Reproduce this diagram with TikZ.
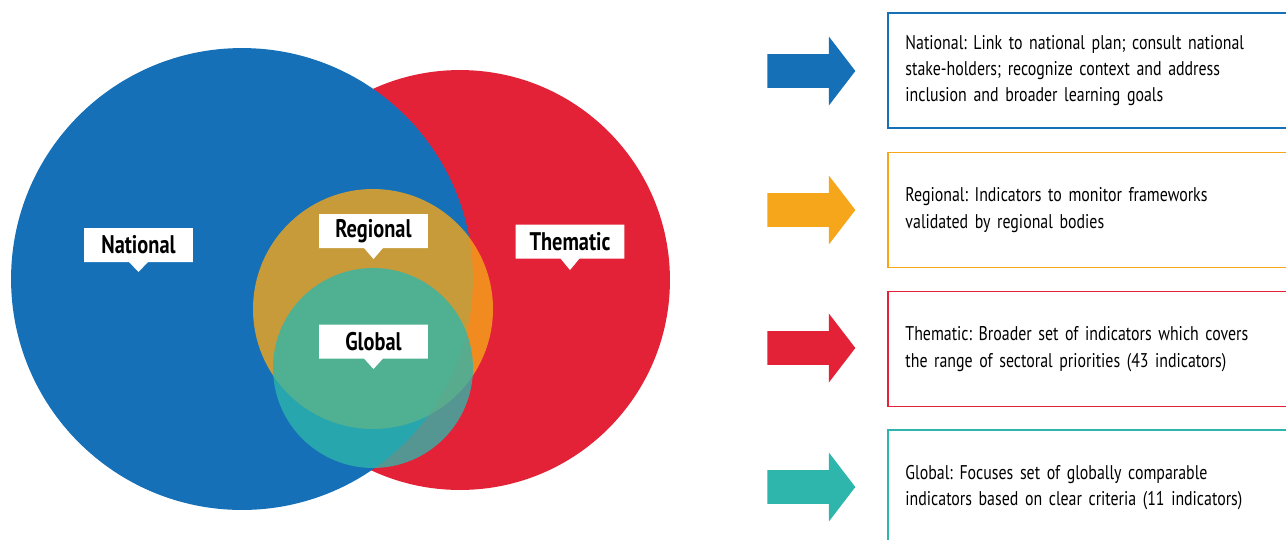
\documentclass[tikz,border=0pt]{standalone}
\usepackage{fontspec}
\setmainfont[FakeStretch=0.8]{PT Sans}
\usetikzlibrary{shapes.arrows,shapes.callouts}
\definecolor{natblue}{RGB}{21,112,184}
\definecolor{thmred}{RGB}{228,34,55}
\definecolor{regorange}{RGB}{245,166,27}
\definecolor{glbteal}{RGB}{46,182,172}
\begin{document}
\frenchspacing
\begin{tikzpicture}[x=0.02cm,y=-0.02cm,
	venn/.style={circle,inner sep=0pt},
	tag/.style={rectangle callout,fill=white,inner sep=0pt,minimum width=2.18cm,minimum height=0.68cm,
		callout pointer width=0.38cm,font=\fontsize{14.5}{16}\selectfont\bfseries},
	bigarrow/.style={single arrow,inner xsep=0pt,inner ysep=0.33cm,minimum height=1.76cm,
		single arrow head extend=0.35cm,single arrow tip angle=105,anchor=tail},
	infobox/.style={draw,line width=1.1pt,anchor=west,minimum width=8.3cm,minimum height=2.3cm,
		text width=7.6cm,inner xsep=0.34cm,align=left,font=\fontsize{11.3}{15}\selectfont}]
			\useasboundingbox (0,0) rectangle (1286,539);
			\clip (0,0) rectangle (1286,539);

			\node[venn,fill=thmred,minimum size=8.4cm] (Thematic) at (460,280) {};
			\node[venn,fill=natblue,minimum size=9.24cm] (National) at (242,279) {};
			\node[venn,fill=regorange,fill opacity=0.8,minimum size=4.8cm] (Regional) at (373,309) {};
			\node[venn,fill=glbteal,fill opacity=0.78,minimum size=4cm] (Global) at (373,368) {};

			\node[tag,callout absolute pointer={(138.5,272)}] (NationalTag) at (138.5,245) {National};
			\node[tag,callout absolute pointer={(570,270)}] (ThematicTag) at (570,241.5) {Thematic};
			\node[tag,callout absolute pointer={(373.5,259)}] (RegionalTag) at (373.5,231) {Regional};
			\node[tag,callout absolute pointer={(373.5,369)}] (GlobalTag) at (373.5,341.5) {Global};

			\node[bigarrow,fill=natblue] (NationalArrow) at (767,71) {};
			\node[bigarrow,fill=regorange] (RegionalArrow) at (767,210) {};
			\node[bigarrow,fill=thmred] (ThematicArrow) at (767,348) {};
			\node[bigarrow,fill=glbteal] (GlobalArrow) at (767,487) {};

			\node[infobox,draw=natblue] (NationalText) at (887,70.5) {National: Link to national plan; consult national\\stake-holders; recognize context and address\\inclusion and broader learning goals\\[-5pt]};
			\node[infobox,draw=regorange] (RegionalText) at (887,210) {Regional: Indicators to monitor frameworks\\validated by regional bodies};
			\node[infobox,draw=thmred] (ThematicText) at (887,349) {Thematic: Broader set of indicators which covers\\the range of sectoral priorities (43 indicators)};
			\node[infobox,draw=glbteal] (GlobalText) at (887,487.5) {Global: Focuses set of globally comparable\\indicators based on clear criteria (11 indicators)};
\end{tikzpicture}
\end{document}
